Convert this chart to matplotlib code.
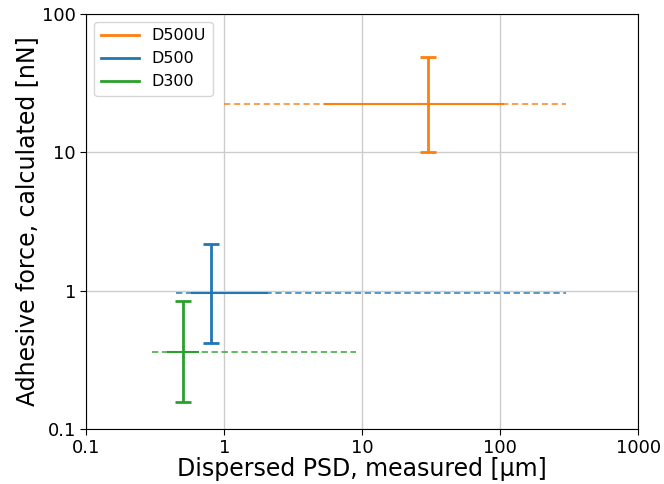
import numpy as np
import matplotlib.pyplot as plt
from matplotlib.ticker import FixedLocator, FixedFormatter, NullLocator

# Dati
nomi = ['D500U', 'D500', 'D300']
colori = ['#ff7f0e', '#1f77b4', '#2ca02c']

psd = [30.0, 0.80, 0.50]          # posizione della barra verticale
forza = [22.4, 0.96, 0.36]        # forza centrale
forza_min = [10.1, 0.42, 0.156]
forza_max = [49.0, 2.18, 0.84]

# intervallo misurato (linea continua) e intervallo esteso (tratteggiata)
psd_sol_min = [5.4, 0.58, 0.39]
psd_sol_max = [105.0, 2.03, 0.65]
psd_tr_min = [1.0, 0.45, 0.30]
psd_tr_max = [300.0, 300.0, 9.0]

fig = plt.figure(figsize=(6.64, 4.84), dpi=100)
ax = fig.add_axes([0.130, 0.114, 0.831, 0.857])

for i in range(len(nomi)):
    c = colori[i]
    ax.plot([psd_tr_min[i], psd_tr_max[i]], [forza[i], forza[i]], '--',
            color=c, lw=1.3, alpha=0.8, dashes=(3.5, 2))
    ax.plot([psd_sol_min[i], psd_sol_max[i]], [forza[i], forza[i]], '-',
            color=c, lw=1.5)
    ax.errorbar(psd[i], forza[i],
                yerr=[[forza[i] - forza_min[i]], [forza_max[i] - forza[i]]],
                fmt='none', ecolor=c, elinewidth=2, capsize=6, capthick=2)
    ax.plot([], [], color=c, lw=2, label=nomi[i])

ax.set_xscale('log')
ax.set_yscale('log')
ax.set_xlim(0.1, 1000)
ax.set_ylim(0.1, 100)

xt = [0.1, 1, 10, 100, 1000]
yt = [0.1, 1, 10, 100]
ax.xaxis.set_major_locator(FixedLocator(xt))
ax.xaxis.set_major_formatter(FixedFormatter(['0.1', '1', '10', '100', '1000']))
ax.yaxis.set_major_locator(FixedLocator(yt))
ax.yaxis.set_major_formatter(FixedFormatter(['0.1', '1', '10', '100']))
ax.xaxis.set_minor_locator(NullLocator())
ax.yaxis.set_minor_locator(NullLocator())
ax.tick_params(labelsize=13, length=4)

ax.grid(True, color='#cccccc', lw=1)
ax.set_axisbelow(True)

ax.set_xlabel('Dispersed PSD, measured [µm]', fontsize=17, labelpad=0)
ax.set_ylabel('Adhesive force, calculated [nN]', fontsize=17, labelpad=2)
ax.legend(loc='upper left', fontsize=11.5, handlelength=2.4)

plt.savefig('out.png')
